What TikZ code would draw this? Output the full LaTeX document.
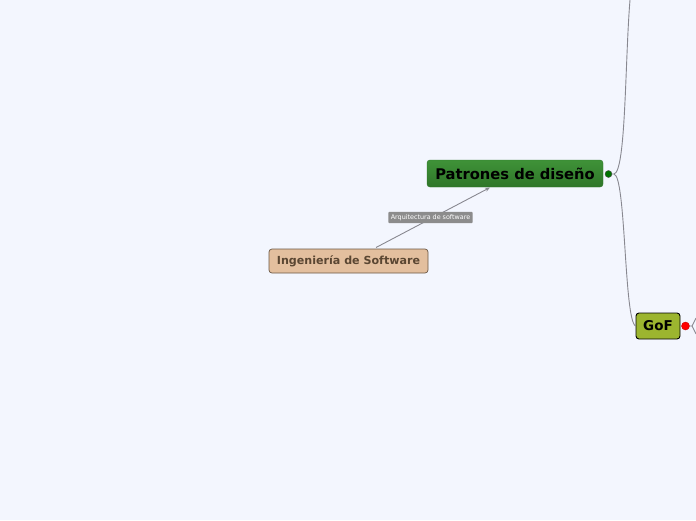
\documentclass[tikz,border=0pt]{standalone}
\usepackage{fontspec}
\setmainfont{DejaVu Sans}
\usetikzlibrary{arrows.meta}
\definecolor{bg}{HTML}{F3F6FE}
\definecolor{tanfill}{HTML}{E3BF9E}
\definecolor{tanborder}{HTML}{6B5845}
\definecolor{tantext}{HTML}{5A4632}
\definecolor{greentop}{HTML}{3F9238}
\definecolor{greenbot}{HTML}{2F7629}
\definecolor{goffill}{HTML}{9CB52F}
\definecolor{linkgray}{HTML}{888890}
\definecolor{labelgray}{HTML}{8C8C8C}
\tikzset{
  topicbox/.style={rounded corners=3pt, inner sep=0pt, font=\bfseries},
  link/.style={draw=linkgray, line width=0.9pt},
  knob/.style={circle, inner sep=0pt, minimum size=7pt, draw=black!70, line width=0.4pt}
}
\begin{document}
\begin{tikzpicture}[x=1pt,y=-1pt]
\fill[bg] (0,0) rectangle (696,520);
\useasboundingbox (0,0) rectangle (696,520);
% nodes
\node[topicbox, draw=tanborder, line width=0.7pt, fill=tanfill, text=tantext, minimum width=159pt, minimum height=24pt, font=\bfseries\fontsize{11.1}{13}\selectfont]
  (ing) at (348.5,261) {Ingeniería de Software};
\node[topicbox, draw=greenbot, top color=greentop, bottom color=greenbot, text=black, minimum width=176pt, minimum height=27pt, font=\bfseries\fontsize{14.7}{17}\selectfont]
  (pat) at (515,173.5) {Patrones de diseño};
\node[topicbox, draw=black, fill=goffill, text=black, minimum width=44pt, minimum height=26pt, line width=0.9pt, font=\bfseries\fontsize{13.5}{15}\selectfont]
  (gof) at (658,326) {GoF};
% knobs
\node[knob, fill=green!45!black, minimum size=7pt] (k1) at (608.5,174) {};
\node[knob, fill=red, draw=red!80!black, minimum width=8pt, minimum height=6pt] (k2) at (685.5,326) {};
% coordinates
\coordinate (ingtop) at (376,247.5);
\coordinate (pathead) at (490,187.5);
\coordinate (topend) at (630,0);
\coordinate (rightend) at (696,318);
\coordinate (rightend2) at (696,334);
% arrow
\draw[link, -{Stealth[length=5pt,width=4pt]}] (ingtop) -- (pathead);
\node[fill=labelgray, text=white, rounded corners=1pt, inner xsep=2.5pt, inner ysep=2.5pt, font=\fontsize{6.4}{7}\selectfont]
  (lab) at (430.5,217.5) {Arquitectura de software};
% branches
\draw[link] (k1.east) -- (614,174) .. controls (626,172) and (625,60) .. (topend);
\draw[link] (614,174) .. controls (626,176) and (624,320) .. (gof.west);
\draw[link] (k2.east) -- (692,326) -- (rightend);
\draw[link] (692,326) -- (rightend2);
\end{tikzpicture}
\end{document}
